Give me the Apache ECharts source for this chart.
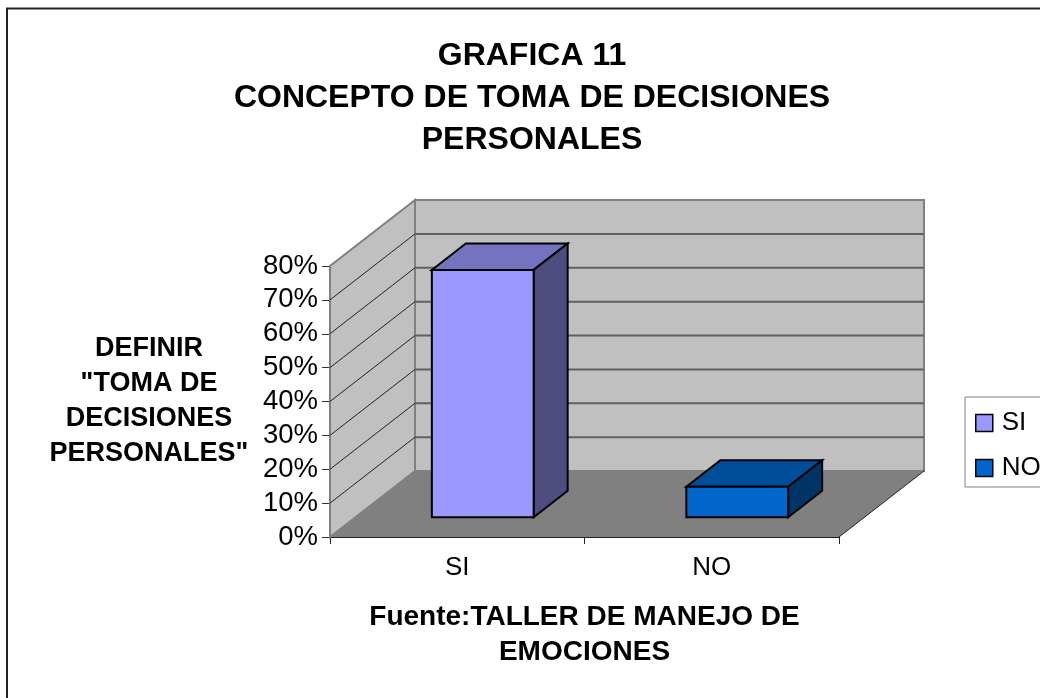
<!DOCTYPE html>
<html>
<head>
<meta charset="utf-8">
<style>html,body{margin:0;padding:0;background:#fff}#c{width:1040px;height:698px}</style>
<script src="https://cdn.jsdelivr.net/npm/echarts@6/dist/echarts.min.js"></script>
</head>
<body>
<div id="c"></div>
<script>
const categories = ['SI', 'NO'];
const values = [0.73, 0.09];
const yTicks = [0, 0.1, 0.2, 0.3, 0.4, 0.5, 0.6, 0.7, 0.8];
const titleText = 'GRAFICA 11\nCONCEPTO DE TOMA DE DECISIONES\nPERSONALES';
const yName = 'DEFINIR\n"TOMA DE\nDECISIONES\nPERSONALES"';
const xName = 'Fuente:TALLER DE MANEJO DE\nEMOCIONES';

const FONT = '"Liberation Sans", Arial, sans-serif';
const DX = 85, DY = -66;
const NEAR = 0.3, FAR = 0.7, BAR_FRAC = 0.4;
const yMax = 0.8;

function poly(points, fill, stroke, lw) {
  return {type: 'polygon', shape: {points}, style: {fill, stroke: stroke || null, lineWidth: lw || 0, lineJoin: 'miter'}};
}
function line(a, b, stroke, lw) {
  return {type: 'line', shape: {x1: a[0], y1: a[1], x2: b[0], y2: b[1]}, style: {stroke, lineWidth: lw}};
}
function renderWalls(params, api) {
  const bl = api.coord([0, 0]);
  const band = api.size([1, 0])[0];
  const y0 = bl[1];
  const x0 = bl[0] - band / 2;
  const x1 = x0 + 2 * band;
  const yT = api.coord([0, yMax])[1];
  return {type: 'group', children: [
    poly([[x0 + DX, y0 + DY], [x1 + DX, y0 + DY], [x1 + DX, yT + DY], [x0 + DX, yT + DY]], '#c0c0c0', '#808080', 2),
    poly([[x0, y0], [x0, yT], [x0 + DX, yT + DY], [x0 + DX, y0 + DY]], '#c0c0c0', '#808080', 2),
    poly([[x0, y0], [x1, y0], [x1 + DX, y0 + DY], [x0 + DX, y0 + DY]], '#808080'),
    line([x1, y0], [x1 + DX, y0 + DY], '#222', 1)
  ]};
}
function renderGrid(params, api) {
  const v = api.value(1);
  const base = api.coord([0, v]);
  const band = api.size([1, 0])[0];
  const y = base[1];
  const x0 = base[0] - band / 2;
  const x1 = x0 + 2 * band;
  return {type: 'group', children: [
    line([x0, y], [x0 + DX, y + DY], '#222', 1),
    line([x0 + DX, y + DY], [x1 + DX, y + DY], '#606060', 2)
  ]};
}
function barRenderer(front, top, side) {
  return function (params, api) {
    const c = api.coord([api.value(0), 0]);
    const t = api.coord([api.value(0), api.value(1)]);
    const w = api.size([1, 0])[0] * BAR_FRAC;
    const ox = DX * NEAR, oy = DY * NEAR;
    const dx = DX * (FAR - NEAR), dy = DY * (FAR - NEAR);
    const l = c[0] - w / 2 + ox, r = c[0] + w / 2 + ox;
    const b = c[1] + oy, h = t[1] + oy;
    const st = '#000';
    return {type: 'group', children: [
      poly([[l, h], [r, h], [r + dx, h + dy], [l + dx, h + dy]], top, st, 2),
      poly([[r, h], [r + dx, h + dy], [r + dx, b + dy], [r, b]], side, st, 2),
      poly([[l, b], [r, b], [r, h], [l, h]], front, st, 2)
    ]};
  };
}

const chart = echarts.init(document.getElementById('c'), null, {renderer: 'canvas'});
chart.setOption({
  animation: false,
  backgroundColor: '#ffffff',
  textStyle: {fontFamily: FONT},
  title: {
    text: titleText, left: 527, top: 30, textAlign: 'center',
    textStyle: {fontFamily: FONT, fontSize: 32, fontWeight: 'bold', color: '#000', lineHeight: 42}
  },
  legend: {
    data: ['SI', 'NO'], orient: 'vertical', left: 965, top: 397,
    backgroundColor: '#fff', borderColor: '#808080', borderWidth: 1,
    padding: [13, 40, 6, 10], itemWidth: 17, itemHeight: 17, itemGap: 19,
    icon: 'rect',
    itemStyle: {borderColor: '#000', borderWidth: 1.5},
    textStyle: {fontFamily: FONT, fontSize: 26, color: '#000', padding: [0, 0, 0, 4]}
  },
  grid: {left: 330, top: 266, width: 509, height: 271, containLabel: false},
  xAxis: {
    type: 'category', data: categories,
    name: xName, nameLocation: 'middle', nameGap: 63,
    nameTextStyle: {fontFamily: FONT, fontSize: 28, fontWeight: 'bold', color: '#000', lineHeight: 35},
    axisLine: {show: true, lineStyle: {color: '#222', width: 2}},
    axisTick: {show: true, alignWithLabel: false, length: 7, lineStyle: {color: '#222', width: 1}},
    axisLabel: {fontFamily: FONT, fontSize: 26, color: '#000', margin: 18},
    splitLine: {show: false}
  },
  yAxis: {
    type: 'value', min: 0, max: yMax, interval: 0.1,
    name: yName, nameLocation: 'middle', nameRotate: 0, nameGap: 181,
    nameTextStyle: {fontFamily: FONT, fontSize: 27, fontWeight: 'bold', color: '#000', lineHeight: 35, align: 'center', verticalAlign: 'middle'},
    axisLine: {show: true, lineStyle: {color: '#333', width: 2}},
    axisTick: {show: true, length: 8, lineStyle: {color: '#333', width: 1}},
    axisLabel: {fontFamily: FONT, fontSize: 27.5, color: '#000', margin: 12, padding: [5, 0, 0, 0],
      formatter: v => Math.round(v * 100) + '%', showMinLabel: true, showMaxLabel: true},
    splitLine: {show: false}
  },
  series: [
    {type: 'custom', name: 'walls', silent: true, clip: false, z: 1, renderItem: renderWalls,
      data: [[categories[0], 0]], encode: {x: 0, y: 1}},
    {type: 'custom', name: 'grid', silent: true, clip: false, z: 2, renderItem: renderGrid,
      data: yTicks.slice(1, -1).map(v => [categories[0], v]), encode: {x: 0, y: 1}},
    {type: 'custom', name: 'SI', clip: false, z: 3, itemStyle: {color: '#9999ff'},
      renderItem: barRenderer('#9999ff', '#7373bf', '#4d4d80'),
      data: [[categories[0], values[0]]], encode: {x: 0, y: 1}},
    {type: 'custom', name: 'NO', clip: false, z: 3, itemStyle: {color: '#0066cc'},
      renderItem: barRenderer('#0066cc', '#004d99', '#003366'),
      data: [[categories[1], values[1]]], encode: {x: 0, y: 1}}
  ],
  graphic: [{
    type: 'rect', silent: true, z: 100,
    shape: {x: 7, y: 8.5, width: 1200, height: 900},
    style: {fill: 'none', stroke: '#222', lineWidth: 2}
  }]
});
</script>
</body>
</html>
